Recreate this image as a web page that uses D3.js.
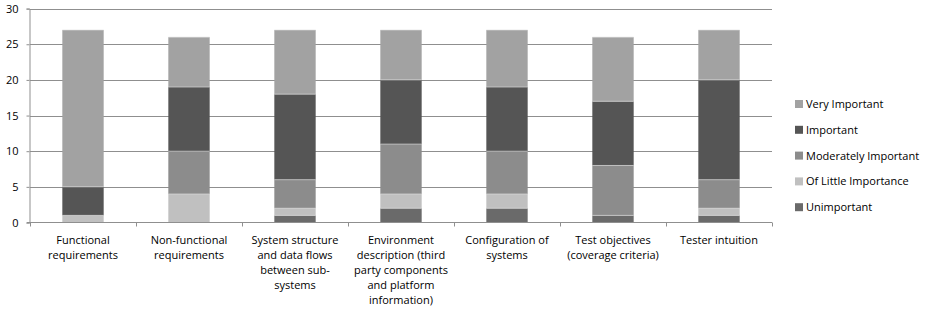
<!DOCTYPE html>
<html>
<head>
<meta charset="utf-8">
<script src="https://cdn.jsdelivr.net/npm/d3@7"></script>
<style>
  body { margin: 0; background: #fff; }
  text { font-family: "Open Sans", "Liberation Sans", sans-serif; font-size: 11px; fill: #000; }
</style>
</head>
<body>
<svg id="chart" width="928" height="310"></svg>
<script>
// categories (line breaks as in the original labels)
var categories = [
  "Functional\nrequirements",
  "Non-functional\nrequirements",
  "System structure\nand data flows\nbetween sub-\nsystems",
  "Environment\ndescription (third\nparty components\nand platform\ninformation)",
  "Configuration of\nsystems",
  "Test objectives\n(coverage criteria)",
  "Tester intuition"
]

// series, stacked bottom to top
var seriesNames = ["Unimportant", "Of Little Importance", "Moderately Important", "Important", "Very Important"]
var unimportant   = [0, 0, 1, 2, 2, 1, 1]
var ofLittle      = [1, 4, 1, 2, 2, 0, 1]
var moderately    = [0, 6, 4, 7, 6, 7, 4]
var important     = [4, 9, 12, 9, 9, 9, 14]
var veryImportant = [22, 7, 9, 7, 8, 9, 7]

var yTicks = [0, 5, 10, 15, 20, 25, 30]

var colors = {
  "Unimportant": "#6a6a6a",
  "Of Little Importance": "#c0c0c0",
  "Moderately Important": "#8c8c8c",
  "Important": "#555555",
  "Very Important": "#a2a2a2"
}

var svg = d3.select('#chart')

// plot area (note: "top" is reserved on window, so prefix these)
var plotLeft = 30, plotRight = 772, plotTop = 8.6, plotBottom = 222.5

var x = d3.scaleBand()
  .domain(categories)
  .range([plotLeft, plotRight])
  .paddingInner(0.61)
  .paddingOuter(0.305)

var y = d3.scaleLinear()
  .domain([0, 30])
  .range([plotBottom, plotTop])

// build rows for the stack
var rows = categories.map(function(c, i) {
  return {
    cat: c,
    "Unimportant": unimportant[i],
    "Of Little Importance": ofLittle[i],
    "Moderately Important": moderately[i],
    "Important": important[i],
    "Very Important": veryImportant[i]
  }
})
var stacked = d3.stack().keys(seriesNames)(rows)

// gridlines
svg.append('g')
  .selectAll('line')
  .data(yTicks.slice(1))
  .join('line')
  .attr('x1', plotLeft)
  .attr('x2', plotRight)
  .attr('y1', function(d) { return Math.round(y(d)) + 0.5 })
  .attr('y2', function(d) { return Math.round(y(d)) + 0.5 })
  .style('stroke', '#8f8f8f')
  .style('stroke-width', 1)

// bars
svg.append('g')
  .selectAll('g')
  .data(stacked)
  .join('g')
  .attr('fill', function(d) { return colors[d.key] })
  .selectAll('rect')
  .data(function(d) { return d })
  .join('rect')
  .attr('x', function(d) { return x(d.data.cat) })
  .attr('width', x.bandwidth())
  .attr('y', function(d) { return y(d[1]) })
  .attr('height', function(d) { return y(d[0]) - y(d[1]) })

// thin light separators between segments
svg.append('g')
  .selectAll('g')
  .data(stacked)
  .join('g')
  .selectAll('line')
  .data(function(d) { return d.filter(function(s) { return s[1] > s[0] }) })
  .join('line')
  .attr('x1', function(d) { return x(d.data.cat) })
  .attr('x2', function(d) { return x(d.data.cat) + x.bandwidth() })
  .attr('y1', function(d) { return y(d[1]) })
  .attr('y2', function(d) { return y(d[1]) })
  .style('stroke', '#e0e0e0')
  .style('stroke-width', 0.6)

// y axis
var yAxis = d3.axisLeft(y)
  .tickValues(yTicks)
  .tickSize(3)
  .tickPadding(8)
var gy = svg.append('g')
  .attr('transform', 'translate(' + (plotLeft - 0.5) + ',0)')
  .call(yAxis)
gy.select('.domain').style('stroke', '#8f8f8f')
gy.selectAll('.tick line').style('stroke', '#8f8f8f')
gy.selectAll('.tick text').style('font-size', '11px').style('font-family', '"Open Sans", "Liberation Sans", sans-serif')

// x axis line
svg.append('line')
  .attr('x1', plotLeft - 3)
  .attr('x2', plotRight)
  .attr('y1', plotBottom)
  .attr('y2', plotBottom)
  .style('stroke', '#8f8f8f')

// x tick marks at category boundaries
var step = x.step()
var bounds = categories.map(function(c) { return x(c) + x.bandwidth() / 2 - step / 2 })
bounds.push(x(categories[categories.length - 1]) + x.bandwidth() / 2 + step / 2)
svg.append('g')
  .selectAll('line')
  .data(bounds)
  .join('line')
  .attr('x1', function(d) { return Math.round(d) + 0.5 })
  .attr('x2', function(d) { return Math.round(d) + 0.5 })
  .attr('y1', plotBottom)
  .attr('y2', plotBottom + 4)
  .style('stroke', '#8f8f8f')

// x labels
var labels = svg.append('g')
  .selectAll('text')
  .data(categories)
  .join('text')
  .attr('text-anchor', 'middle')
  .attr('x', function(d) { return x(d) + x.bandwidth() / 2 })
  .attr('y', 244)
labels.selectAll('tspan')
  .data(function(d) { return d.split('\n') })
  .join('tspan')
  .attr('x', function() { return d3.select(this.parentNode).attr('x') })
  .attr('dy', function(d, i) { return i === 0 ? 0 : 15 })
  .text(function(d) { return d })

// legend (top to bottom: Very Important first)
var legendItems = seriesNames.slice().reverse()
var legend = svg.append('g')
  .selectAll('g')
  .data(legendItems)
  .join('g')
  .attr('transform', function(d, i) { return 'translate(795,' + (104 + i * 25.8) + ')' })
legend.append('rect')
  .attr('x', 0)
  .attr('y', -4)
  .attr('width', 8)
  .attr('height', 8)
  .attr('fill', function(d) { return colors[d] })
legend.append('text')
  .attr('x', 11)
  .attr('y', 4)
  .text(function(d) { return d })
</script>
</body>
</html>
